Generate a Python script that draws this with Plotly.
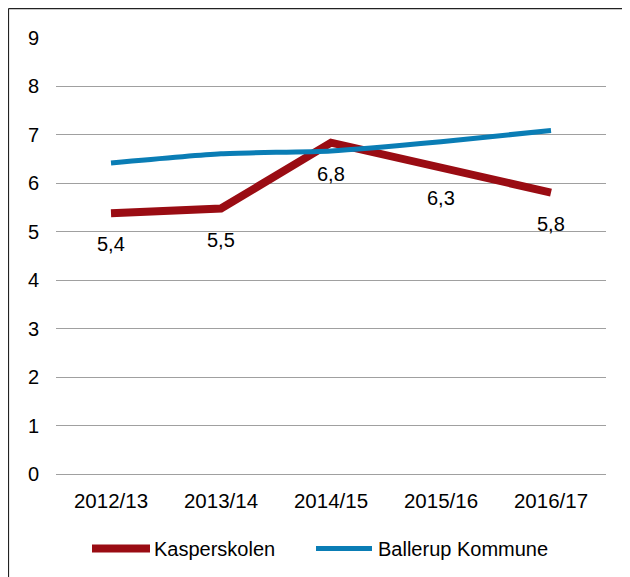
import plotly.graph_objects as go

categories = ["2012/13", "2013/14", "2014/15", "2015/16", "2016/17"]
kasper = [5.38, 5.48, 6.84, 6.33, 5.81]
ballerup = [6.42, 6.61, 6.67, 6.86, 7.09]
series_names = ["Kasperskolen", "Ballerup Kommune"]
y_ticks = [0, 1, 2, 3, 4, 5, 6, 7, 8, 9]

RED = "#9A0C13"
BLUE = "#0A7DB5"
FONT = "Liberation Sans, Arial, sans-serif"

OFF = 8  # page body margin
W, H = 630 - OFF, 577 - OFF
# plot area in page coordinates: x 56..606, y 38.4..473.6
L = 56 - OFF
pw = 550
R = W - L - pw
T = 38.4 - OFF
B = H - (473.6 - OFF)
ph = H - T - B

def px(xp):
    return (xp - OFF - L) / pw

def py(yp):
    return (H - B - (yp - OFF)) / ph

fig = go.Figure()
fig.add_trace(go.Scatter(x=categories, y=kasper, mode="lines", name=series_names[0],
                         line=dict(color=RED, width=8), showlegend=False))
fig.add_trace(go.Scatter(x=categories, y=ballerup, mode="lines", name=series_names[1],
                         line=dict(color=BLUE, width=5, shape="spline", smoothing=0.6),
                         showlegend=False))

annotations = []
for c, v in zip(categories, kasper):
    annotations.append(dict(x=c, y=v, xref="x", yref="y", text=f"{v:.1f}".replace(".", ","),
                            showarrow=False, yshift=-31, font=dict(size=20, color="black", family=FONT)))

# custom legend
leg_y = py(548)
annotations.append(dict(x=px(152), y=leg_y, xref="paper", yref="paper", text=series_names[0],
                        showarrow=False, xanchor="left", yanchor="middle",
                        font=dict(size=20, color="black", family=FONT)))
annotations.append(dict(x=px(376), y=leg_y, xref="paper", yref="paper", text=series_names[1],
                        showarrow=False, xanchor="left", yanchor="middle",
                        font=dict(size=20, color="black", family=FONT)))

shapes = [
    dict(type="line", xref="paper", yref="paper", x0=px(92), x1=px(150), y0=leg_y, y1=leg_y,
         line=dict(color=RED, width=8)),
    dict(type="line", xref="paper", yref="paper", x0=px(316), x1=px(372), y0=leg_y, y1=leg_y,
         line=dict(color=BLUE, width=5)),
    # chart border (left and top edges)
    dict(type="line", xref="paper", yref="paper", x0=px(8.5), x1=px(8.5), y0=py(9), y1=py(H + 20),
         line=dict(color="#222222", width=1.2)),
    dict(type="line", xref="paper", yref="paper", x0=px(8.5), x1=px(W + 20), y0=py(9), y1=py(9),
         line=dict(color="#222222", width=1.2)),
]

fig.update_layout(
    width=W, height=H,
    margin=dict(l=L, r=R, t=T, b=B, pad=0),
    paper_bgcolor="white", plot_bgcolor="white",
    font=dict(family=FONT, size=20, color="black"),
    showlegend=False,
    annotations=annotations,
    shapes=shapes,
    xaxis=dict(type="category", showgrid=False, zeroline=False, showline=False,
               ticks="", tickfont=dict(size=20.5), ticklabelstandoff=12,
               range=[-0.5, 4.5]),
    yaxis=dict(range=[0, 9], tickvals=y_ticks, showgrid=True, gridcolor="#A0A0A0",
               gridwidth=1, zeroline=True, zerolinecolor="#A0A0A0", zerolinewidth=1,
               showline=False, ticks="", tickfont=dict(size=20), ticklabelstandoff=16),
)

fig.write_html("out.html")
